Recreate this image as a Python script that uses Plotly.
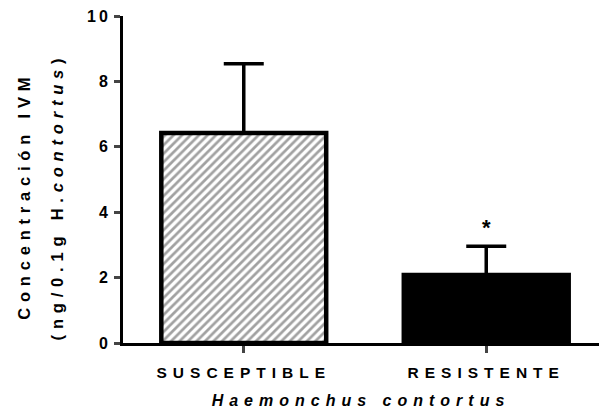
import plotly.graph_objects as go

categories = ["SUSCEPTIBLE", "RESISTENTE"]
means = [6.42, 2.08]
sem_up = [2.12, 0.88]
sig_marks = ["", "*"]
y_ticks = [0, 2, 4, 6, 8, 10]
y_title_lines = ["Concentración IVM", "(ng/0.1g H.<i>contortus</i>)"]
x_title = "<i>Haemonchus contortus</i>"

FONT = "Liberation Sans, Arial, sans-serif"

def f(size):
    return dict(size=size, family=FONT, color="black", weight="bold")

fig = go.Figure()
fig.add_trace(go.Bar(
    x=[0, 1], y=means, width=0.68,
    marker=dict(
        color=["white", "black"],
        line=dict(color="black", width=4.5),
        pattern=dict(shape=["/", ""], fgcolor="black", bgcolor="white", size=6, solidity=0.45),
    ),
    error_y=dict(type="data", symmetric=False, array=sem_up, arrayminus=[0, 0],
                 color="black", thickness=3.5, width=20),
    showlegend=False,
    hoverinfo="skip",
))

for i, m in enumerate(sig_marks):
    if m:
        fig.add_annotation(x=i, y=means[i] + sem_up[i], text=m,
                           showarrow=False, yshift=19, font=f(22))

for k, (line, shift) in enumerate(zip(y_title_lines, [-100, -67])):
    fig.add_annotation(xref="paper", yref="paper", x=0, y=0.5, xanchor="center", yanchor="middle",
                       xshift=shift, yshift=-17, textangle=-90, text=line, showarrow=False,
                       font=f(16.5))

fig.update_layout(
    width=601, height=414,
    margin=dict(l=123, r=2, t=16, b=71),
    paper_bgcolor="white", plot_bgcolor="white",
    font=f(14),
)
fig.update_xaxes(
    range=[-0.498, 1.465], tickvals=[0, 1], ticktext=categories,
    tickfont=f(15.5), ticks="outside", ticklen=7, tickwidth=3,
    ticklabelstandoff=6,
    showline=True, linecolor="black", linewidth=3, showgrid=False, zeroline=False,
    title=dict(text=x_title, font=f(16), standoff=16),
)
fig.update_yaxes(
    range=[0, 10], tickvals=y_ticks, ticktext=[str(t) for t in y_ticks],
    tickfont=f(16), ticks="outside", ticklen=6, tickwidth=3,
    showline=True, linecolor="black", linewidth=3, showgrid=False, zeroline=False,
)

post = """
document.body.style.margin='0';
var gd=document.getElementById('{plot_id}');
gd.querySelectorAll('.xtick text, .xtitle').forEach(function(e){e.style.letterSpacing='6px';});
gd.querySelectorAll('.ytick text').forEach(function(e){e.style.letterSpacing='3px';});
gd.querySelectorAll('.annotation-text').forEach(function(e){ if(e.textContent.length>1){e.style.letterSpacing='5.8px';} });
"""

fig.write_html("out.html", post_script=post, config={"displayModeBar": False, "staticPlot": True})
